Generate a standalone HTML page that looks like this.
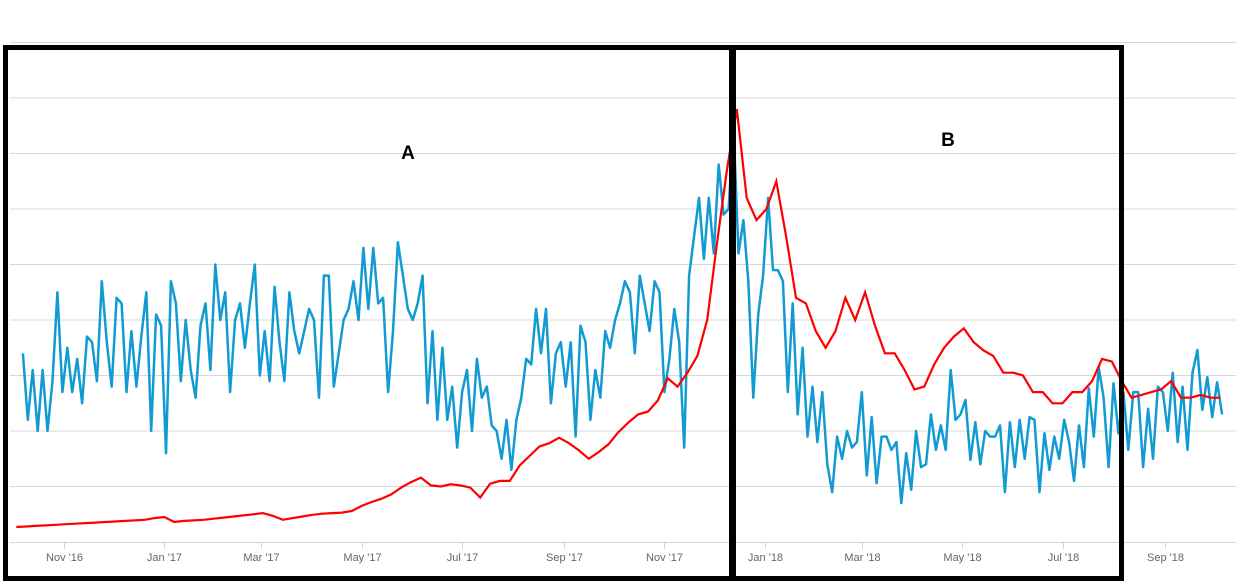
<!DOCTYPE html>
<html><head><meta charset="utf-8"><style>
html,body{margin:0;padding:0;background:#fff;}
svg{display:block;font-family:"Liberation Sans",sans-serif;}
</style></head><body>
<svg id="chart" width="1250" height="582" viewBox="0 0 1250 582" xmlns="http://www.w3.org/2000/svg">
<g id="grid"></g>
<g id="xaxis"></g>
<g id="series"></g>
<g fill="#000">
<rect x="3" y="45" width="1121" height="5"/>
<rect x="3" y="576" width="1121" height="5"/>
<rect x="3" y="45" width="5" height="536"/>
<rect x="729" y="45" width="7" height="536"/>
<rect x="1119" y="45" width="5" height="536"/>
</g>
<text x="408" y="159" font-size="19" font-weight="bold" text-anchor="middle">A</text>
<text x="948" y="146" font-size="19" font-weight="bold" text-anchor="middle">B</text>
</svg>
<script>
const gridValues = [10,20,30,40,50,60,70,80,90];
const tickLabels = ["Nov '16","Jan '17","Mar '17","May '17","Jul '17","Sep '17","Nov '17","Jan '18","Mar '18","May '18","Jul '18","Sep '18"];
const tickDays = [0,61,120,181,242,304,365,426,485,546,607,669];
const blueStartDay = -25, blueStepDays = 3;
const blueValues = [34,22,31,20,31,20,29,45,27,35,27,33,25,37,36,29,47,36,28,44,43,27,38,28,37,45,20,41,39,16,47,43,29,40,31,26,39,43,31,50,40,45,27,40,43,35,43,50,30,38,29,46,36,29,45,38,34,38,42,40,26,48,48,28,34,40,42,47,40,53,42,53,43,44,27,38,54,48,42,40,43,48,25,38,22,35,22,28,17,27,31,20,33,26,28,21,20,15,22,13,22,26,33,32,42,34,42,25,34,36,28,36,19,39,36,22,31,26,38,35,40,43,47,45,34,48,43,38,47,45,27,33,42,36,17,48,55,62,51,62,52,68,59,60,75,52,58,47,26,41,48,62,49,49,47,27,43,23,35,19,28,18,27,14,9,19,15,20,17,18,27,12,22.5,10.6,19,19,16.6,18,7,16,9.4,20,13.5,14,23,16.6,21,16.6,31,22,23,25.6,14.8,21.6,14,20,19,19,21,9,21.6,13.5,22,15,22.5,22,9,19.6,13,19,15,22,18,11,21,13.5,27.7,19,31.5,26,13.5,28.6,19.6,27,16.6,27,27,13.5,24,15,28,27,20,30.5,18,28,16.6,30.5,34.6,23.8,29.7,22.5,28.8,23];
const redStartDay = -29, redStepDays = 6;
const redValues = [2.7,2.8,2.9,3.0,3.1,3.2,3.3,3.4,3.5,3.6,3.7,3.8,3.9,4.0,4.3,4.5,3.6,3.8,3.9,4.0,4.2,4.4,4.6,4.8,5.0,5.2,4.7,4.0,4.3,4.6,4.9,5.1,5.2,5.3,5.6,6.5,7.2,7.8,8.6,9.8,10.8,11.6,10.2,10.0,10.4,10.2,9.8,8.0,10.5,11.0,11.0,13.8,15.5,17.2,17.8,18.8,17.8,16.5,15.0,16.2,17.6,19.8,21.5,23.0,23.5,25.5,29.5,28.0,30.5,33.5,40,54,67,78,62,58,60,65,55,44,43,38,35,38,44,40,45,39,34,34,31,27.5,28,32,35,37,38.5,36,34.5,33.5,30.5,30.5,30,27,27,25,25,27,27,29,33,32.5,29,26,26.5,27,27.5,29,26,26,26.5,26,26];

const NS="http://www.w3.org/2000/svg";
function xDay(d){return 64+1.645*d;}
function yVal(v){return 542-v*5.55;}
function mk(tag,attrs,parent){const e=document.createElementNS(NS,tag);for(const k in attrs)e.setAttribute(k,attrs[k]);parent.appendChild(e);return e;}

const grid=document.getElementById('grid');
gridValues.forEach(v=>{
  const l=mk('line',{x1:10,x2:1236,y1:yVal(v),y2:yVal(v),stroke:'#d8d8d8','stroke-width':1},grid);
  
  
});
const xa=document.getElementById('xaxis');
const axl=mk('line',{x1:10,x2:1236,y1:542.5,y2:542.5,stroke:'#ccd6eb','stroke-width':1},xa);


tickDays.forEach((d,i)=>{
  const x=Math.round(xDay(d))+0.5;
  const t=mk('line',{x1:x,x2:x,y1:542,y2:549,stroke:'#ccd6eb','stroke-width':1},xa);
  
  
  const tx=mk('text',{x:x,y:561,'font-size':11,fill:'#666','text-anchor':'middle'},xa);
  tx.textContent=tickLabels[i];
  
  
});
const sg=document.getElementById('series');
function pathFor(vals,start,step){return vals.map((v,i)=>(i?'L':'M')+xDay(start+step*i).toFixed(1)+' '+yVal(v).toFixed(1)).join(' ');}
const bl=mk('path',{d:pathFor(blueValues,blueStartDay,blueStepDays),fill:'none',stroke:'#129bd3','stroke-width':2.5,'stroke-linejoin':'round'},sg);


const rl=mk('path',{d:pathFor(redValues,redStartDay,redStepDays),fill:'none',stroke:'#ff0000','stroke-width':2.2,'stroke-linejoin':'miter'},sg);


</script>
</body></html>
